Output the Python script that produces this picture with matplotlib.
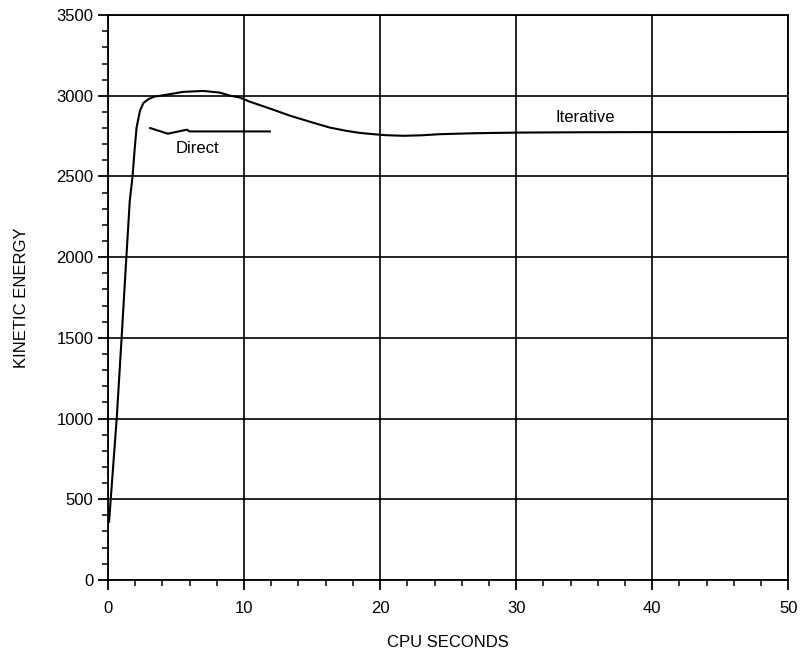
import numpy as np
from matplotlib import pyplot as plt
from matplotlib.ticker import MultipleLocator

# iterative solver: kinetic energy vs cpu time
iter_t = [0.08, 0.2, 0.64, 1.0, 1.3, 1.6, 1.81, 1.95, 2.1, 2.35, 2.6, 2.97, 3.4, 4.07, 5.5, 7.0, 8.2,
          9.0, 9.7, 10.4, 12.0, 13.4, 15.0, 16.3, 17.5, 18.5, 19.5, 20.4, 21.7, 23.0, 24.4, 27.0,
          30.3, 35.0, 40.0, 45.0, 50.0]
iter_ke = [360, 500, 1000, 1500, 1930, 2350, 2505, 2660, 2803, 2907, 2955, 2979, 2995, 3003, 3024, 3030, 3020,
           3000, 2989, 2964, 2918, 2876, 2835, 2803, 2783, 2770, 2762, 2756, 2752, 2755, 2762, 2768,
           2772, 2774, 2775, 2775, 2776]

# direct solver
direct_t = [3.1, 4.4, 5.8, 6.0, 11.9]
direct_ke = [2800, 2765, 2790, 2779, 2779]

plt.rcParams['font.family'] = ['Liberation Sans', 'DejaVu Sans']

fig = plt.figure(figsize=(8.06, 6.56), dpi=100)
ax = fig.add_axes([0.134, 0.116, 0.844, 0.861])

ax.plot(iter_t, iter_ke, color='black', lw=1.5, solid_joinstyle='round')
ax.plot(direct_t, direct_ke, color='black', lw=1.5, solid_joinstyle='round')

ax.text(6.6, 2673, 'Direct', ha='center', va='center', fontsize=12)
ax.text(35.1, 2863, 'Iterative', ha='center', va='center', fontsize=12)

ax.set_xlim(0, 50)
ax.set_ylim(0, 3500)
ax.xaxis.set_major_locator(MultipleLocator(10))
ax.xaxis.set_minor_locator(MultipleLocator(2))
ax.yaxis.set_major_locator(MultipleLocator(500))
ax.yaxis.set_minor_locator(MultipleLocator(100))
ax.tick_params(which='major', direction='out', length=7, width=1.3, labelsize=12, colors='black')
ax.tick_params(which='minor', direction='out', length=4, width=1.1)
ax.tick_params(axis='x', pad=8)

ax.grid(True, which='major', color='black', lw=1.2)
for s in ax.spines.values():
    s.set_linewidth(1.3)

ax.set_xlabel('CPU SECONDS', fontsize=12, labelpad=14)
ax.set_ylabel('KINETIC ENERGY', fontsize=12, labelpad=20)

fig.savefig('out.png', dpi=100)
